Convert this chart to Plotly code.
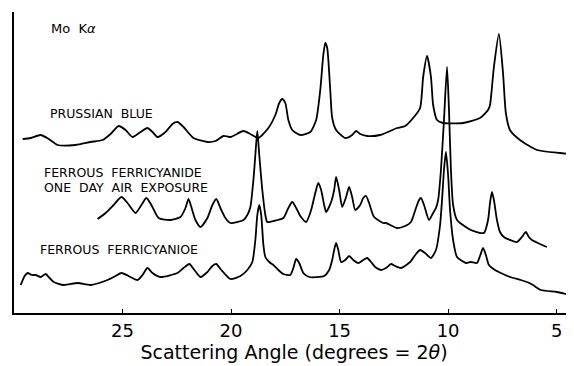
import plotly.graph_objects as go

# Scattering angle (degrees 2θ) and relative intensity (arbitrary units, stacked traces)
pb_angle = [29.60, 29.23, 28.77, 28.40, 27.99, 27.16, 26.47, 25.92, 25.55, 25.18, 24.86, 24.54,
            24.17, 23.85, 23.62, 23.39, 23.02, 22.70, 22.47, 22.19, 21.73, 21.09, 20.72, 20.35,
            20.03, 19.43, 19.11, 18.74, 18.28, 17.96, 17.78, 17.64, 17.50, 17.36, 17.18, 16.81,
            16.35, 16.08, 15.89, 15.75, 15.66, 15.57, 15.43, 15.34, 15.16, 14.74, 14.42, 14.24,
            14.05, 13.73, 13.13, 12.35, 11.98, 11.61, 11.29, 11.15, 10.97, 10.79, 10.69, 10.51,
            10.23, 9.31, 8.53, 8.16, 8.07, 7.89, 7.66, 7.47, 7.34, 7.15, 6.69, 5.91, 4.85, 4.31]
pb_int = [174, 175, 178, 174, 168, 168, 171, 173, 179, 187, 183, 176,
          181, 185, 181, 176, 181, 189, 191, 186, 175, 171, 172, 177,
          176, 182, 179, 175, 185, 198, 210, 214, 210, 193, 183, 178,
          181, 193, 223, 258, 270, 265, 223, 195, 183, 175, 178, 182,
          179, 177, 178, 185, 187, 195, 205, 236, 257, 236, 208, 193,
          190, 190, 195, 203, 208, 246, 279, 240, 200, 183, 173, 163, 160, 159]

air_angle = [26.15, 25.78, 25.41, 25.05, 24.77, 24.40, 24.13, 23.90, 23.67, 23.34, 22.79, 22.33,
             22.10, 21.96, 21.83, 21.64, 21.41, 21.09, 20.86, 20.68, 20.49, 20.26, 20.03, 19.43,
             19.25, 19.11, 18.97, 18.88, 18.79, 18.70, 18.56, 18.42, 18.33, 17.87, 17.59, 17.36,
             17.18, 17.00, 16.81, 16.54, 16.31, 16.12, 15.98, 15.85, 15.71, 15.62, 15.39, 15.25,
             15.16, 15.02, 14.88, 14.70, 14.56, 14.42, 14.28, 14.05, 13.91, 13.78, 13.64, 13.41,
             12.99, 12.86, 12.35, 11.98, 11.71, 11.48, 11.34, 11.25, 11.11, 10.88, 10.69, 10.56,
             10.46, 10.33, 10.19, 10.05, 9.96, 9.87, 9.77, 9.59, 8.95, 8.35, 8.16, 8.07,
             7.98, 7.89, 7.75, 7.61, 7.43, 6.83, 6.60, 6.42, 6.28, 6.14, 5.77, 5.45]
air_int = [94, 100, 108, 116, 110, 100, 108, 115, 108, 95, 93, 96,
           105, 114, 106, 93, 86, 95, 108, 114, 105, 95, 90, 93,
           98, 106, 133, 158, 182, 158, 123, 98, 91, 93, 95, 105,
           111, 105, 97, 91, 103, 120, 130, 123, 108, 101, 111, 123,
           136, 123, 106, 116, 126, 116, 103, 108, 115, 117, 110, 96,
           90, 90, 85, 87, 91, 105, 113, 115, 108, 93, 100, 105,
           113, 143, 193, 246, 203, 143, 108, 93, 83, 80, 93, 110,
           121, 113, 93, 81, 76, 71, 76, 81, 76, 73, 69, 66]

ff_angle = [29.69, 29.51, 29.37, 29.19, 29.00, 28.77, 28.54, 28.36, 28.17, 27.71, 27.07, 26.47,
            25.69, 25.32, 25.05, 24.72, 24.31, 24.08, 23.85, 23.62, 23.25, 22.47, 22.19, 21.92,
            21.69, 21.41, 21.09, 20.86, 20.68, 20.45, 20.03, 19.57, 19.25, 19.02, 18.88, 18.79,
            18.70, 18.61, 18.51, 18.42, 18.24, 18.05, 17.82, 17.59, 17.27, 17.13, 17.00, 16.86,
            16.67, 16.40, 15.71, 15.48, 15.34, 15.25, 15.16, 15.06, 14.93, 14.74, 14.56, 14.37,
            14.14, 13.91, 13.73, 13.55, 13.36, 13.09, 12.86, 12.63, 12.44, 12.17, 11.75, 11.48,
            11.29, 11.06, 10.79, 10.56, 10.37, 10.28, 10.19, 10.10, 10.00, 9.91, 9.77, 9.59,
            9.18, 8.95, 8.67, 8.53, 8.39, 8.26, 8.12, 7.84, 7.57, 7.15, 6.65, 6.37,
            6.09, 5.73, 4.99, 4.58, 4.22]
ff_int = [28, 37, 40, 38, 38, 36, 39, 35, 31, 28, 30, 28,
          33, 37, 40, 37, 33, 38, 45, 40, 36, 40, 45, 49,
          43, 36, 41, 47, 49, 43, 34, 37, 43, 51, 73, 98,
          108, 98, 68, 56, 51, 48, 43, 39, 38, 45, 54, 50,
          40, 36, 37, 43, 53, 63, 70, 63, 51, 53, 57, 53,
          50, 53, 55, 51, 46, 43, 45, 49, 47, 45, 51, 59,
          63, 60, 55, 63, 88, 113, 143, 161, 138, 103, 73, 56,
          50, 51, 50, 57, 65, 58, 48, 43, 40, 36, 33, 31,
          28, 23, 21, 19, 16]

tick_vals = [25, 20, 15, 10, 5]
tick_text = ["25", "20", "15", "10", "5"]

labels = ["Mo  K<i>α</i>", "PRUSSIAN  BLUE", "FERROUS  FERRICYANIDE", "ONE  DAY  AIR  EXPOSURE",
          "FERROUS  FERRICYANIOE"]
label_x = [28.40, 28.45, 28.73, 28.73, 28.91]
label_y = [285, 200, 141, 126, 64]
label_size = [13, 12.5, 12.5, 12.5, 12.5]

fig = go.Figure()
for xs, ys in [(pb_angle, pb_int), (air_angle, air_int), (ff_angle, ff_int)]:
    fig.add_trace(go.Scatter(x=xs, y=ys, mode="lines",
                             line=dict(color="black", width=1.8, shape="spline", smoothing=0.6),
                             hoverinfo="skip", showlegend=False))

for t, x, y, s in zip(labels, label_x, label_y, label_size):
    fig.add_annotation(x=x, y=y, xref="x", yref="y", text=t, showarrow=False,
                       xanchor="left", yanchor="middle",
                       font=dict(family="DejaVu Sans", size=s, color="black"))

fig.update_layout(
    width=566, height=358,
    margin=dict(l=6, r=0, t=4, b=53),
    paper_bgcolor="white", plot_bgcolor="white",
    font=dict(family="DejaVu Sans", color="black"),
    xaxis=dict(range=[30.0, 4.2], showgrid=False, zeroline=False,
               showline=True, linecolor="black", linewidth=2,
               tickmode="array", tickvals=tick_vals, ticktext=tick_text,
               ticks="inside", ticklen=4, tickcolor="black", tickwidth=1,
               tickfont=dict(size=18, family="DejaVu Sans"),
               title=dict(text="Scattering Angle (degrees = 2<i>θ</i>)",
                          font=dict(size=19, family="DejaVu Sans"), standoff=4)),
    yaxis=dict(range=[0, 301], showgrid=False, zeroline=False,
               showline=True, linecolor="black", linewidth=2,
               showticklabels=False, ticks=""),
)

fig.write_html("out.html")
